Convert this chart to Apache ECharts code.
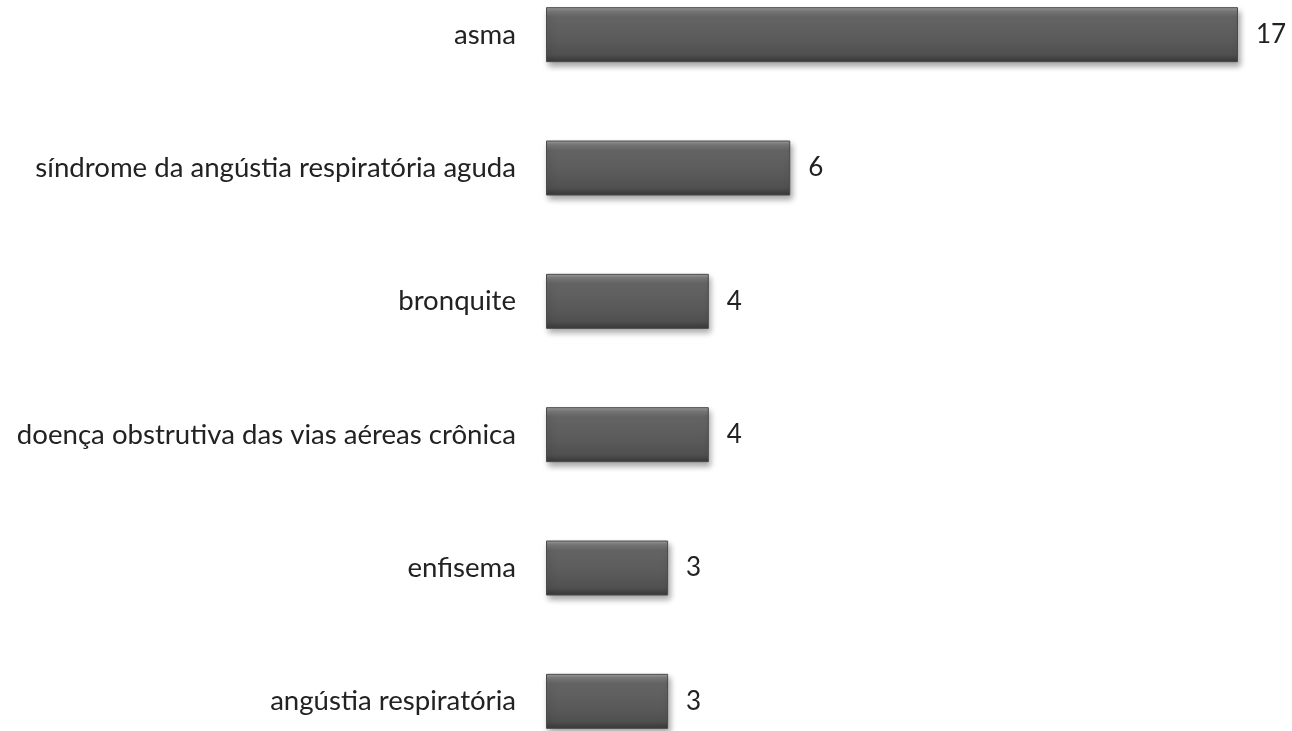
<!DOCTYPE html>
<html>
<head>
<meta charset="utf-8">
<script src="https://cdn.jsdelivr.net/npm/echarts@6/dist/echarts.min.js"></script>
<style>
  html, body { margin: 0; padding: 0; background: #fff; overflow: hidden; }
  /* a área do gráfico ultrapassa a janela em cima e em baixo */
  #chart { position: absolute; left: 0; top: -32px; width: 1292px; height: 800px; }
</style>
</head>
<body>
<div id="chart"></div>
<script>
// Dados (de baixo para cima no eixo de categorias)
const categorias = [
    'angústia respiratória',
    'enfisema',
    'doença obstrutiva das vias aéreas crônica',
    'bronquite',
    'síndrome da angústia respiratória aguda',
    'asma'
];
const valores = [3, 3, 4, 4, 6, 17];

const chart = echarts.init(document.getElementById('chart'));

// Estilo da barra com efeito chanfrado
const barGradient = new echarts.graphic.LinearGradient(0, 0, 0, 1, [
    { offset: 0, color: '#a0a0a0' },
    { offset: 0.07, color: '#7c7c7c' },
    { offset: 0.18, color: '#646464' },
    { offset: 0.6, color: '#5a5a5a' },
    { offset: 0.86, color: '#505050' },
    { offset: 1, color: '#383838' }
]);

chart.setOption({
    animation: false,
    grid: { left: 546, right: 54, top: 0, bottom: 0, containLabel: false },
    xAxis: {
        type: 'value',
        min: 0,
        max: 17,
        show: false
    },
    yAxis: {
        type: 'category',
        data: categorias,
        axisLine: { show: false },
        axisTick: { show: false },
        axisLabel: {
            margin: 30,
            fontFamily: 'Lato',
            fontSize: 27.6,
            color: '#222'
        }
    },
    series: [{
        type: 'bar',
        data: valores,
        barWidth: 55,
        itemStyle: {
            color: barGradient,
            borderColor: '#4a4a4a',
            borderWidth: 1,
            shadowColor: 'rgba(0,0,0,0.35)',
            shadowBlur: 6,
            shadowOffsetX: 2,
            shadowOffsetY: 4
        },
        label: {
            show: true,
            position: 'right',
            distance: 18,
            fontFamily: 'Lato',
            fontSize: 26,
            color: '#222'
        }
    }]
});
</script>
</body>
</html>
